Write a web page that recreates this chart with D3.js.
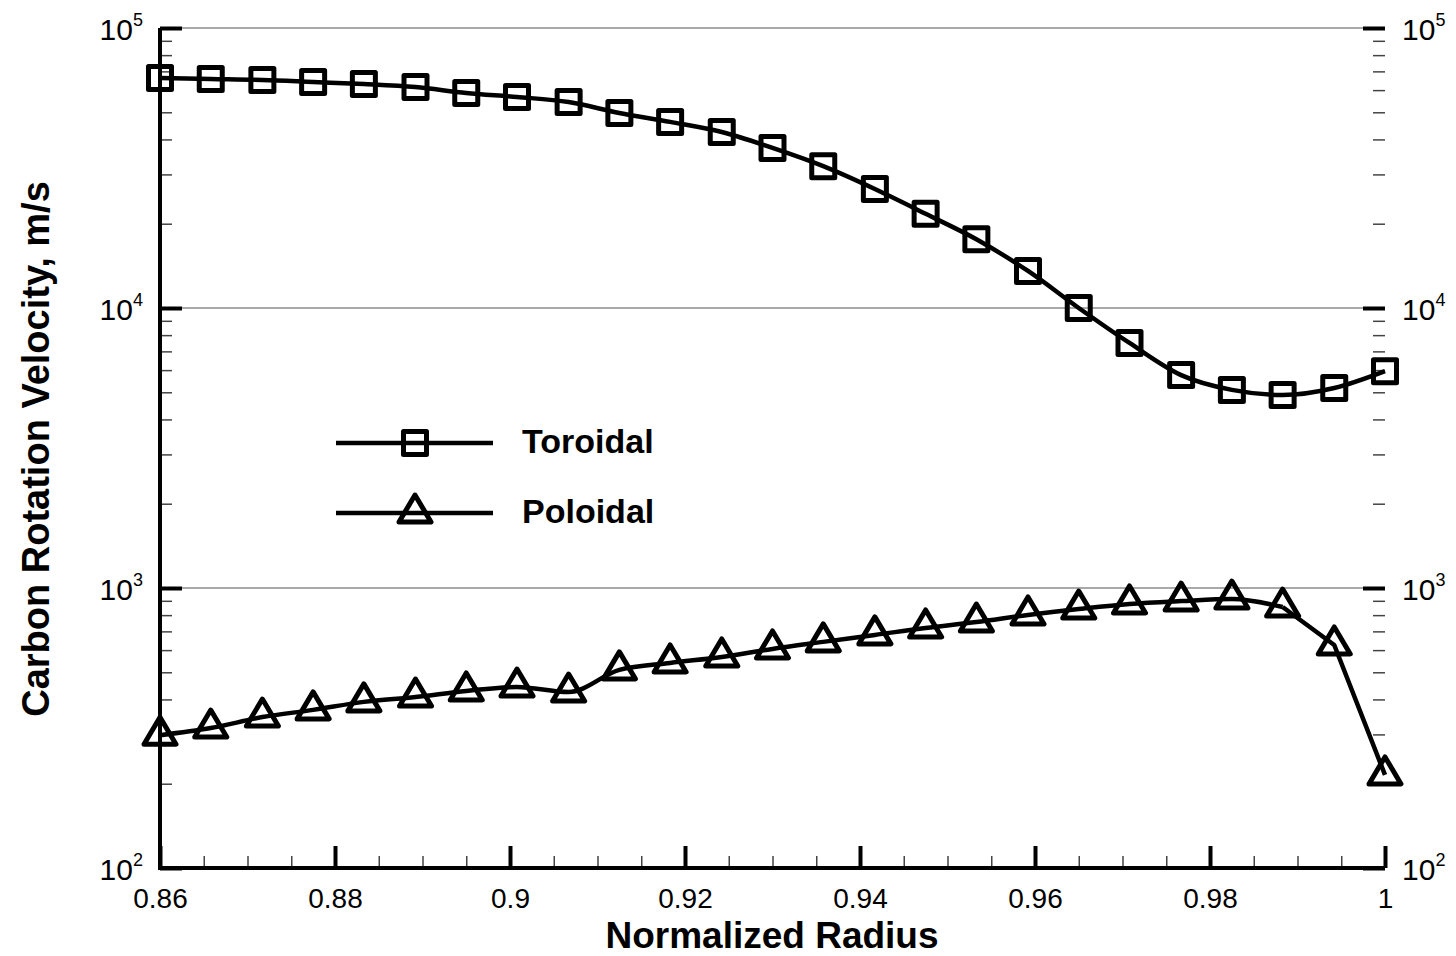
<!DOCTYPE html>
<html><head><meta charset="utf-8">
<script src="https://cdn.jsdelivr.net/npm/d3@7"></script>
<style>
html,body{margin:0;padding:0;background:#fff;}
svg{display:block;font-family:Arial,"Liberation Sans",sans-serif;}
</style></head>
<body>
<svg id="chart" width="1456" height="956"></svg>
<script>
// ---- data ----
const radius = [0.86, 0.8658, 0.8717, 0.8775, 0.8833, 0.8892, 0.895, 0.9008, 0.9067, 0.9125,
  0.9183, 0.9242, 0.93, 0.9358, 0.9417, 0.9475, 0.9533, 0.9592, 0.965, 0.9708,
  0.9767, 0.9825, 0.9883, 0.9942, 1.0];
const toroidal = [66300, 65750, 65200, 64150, 63100, 61560, 58600, 56700, 54400, 49700,
  46200, 42500, 37300, 32100, 26600, 21700, 17600, 13560, 10000, 7500,
  5760, 5100, 4890, 5180, 5950];
const poloidal = [298, 316, 346, 367, 392, 408, 429, 443, 425, 510,
  540, 567, 606, 642, 680, 720, 756, 801, 841, 877,
  898, 913, 855, 626, 215];
const xMajorTicks = [0.86, 0.88, 0.9, 0.92, 0.94, 0.96, 0.98, 1.0];
const xTickLabels = ["0.86", "0.88", "0.9", "0.92", "0.94", "0.96", "0.98", "1"];
const xMinorTicks = [0.865, 0.87, 0.875, 0.885, 0.89, 0.895, 0.905, 0.91, 0.915, 0.925, 0.93, 0.935,
  0.945, 0.95, 0.955, 0.965, 0.97, 0.975, 0.985, 0.99, 0.995];
const yMajorTicks = [100, 1000, 10000, 100000];
const yExponents = ["2", "3", "4", "5"];
const yMinorTicks = [200,300,400,500,600,700,800,900,2000,3000,4000,5000,6000,7000,8000,9000,
  20000,30000,40000,50000,60000,70000,80000,90000];
const seriesNames = ["Toroidal", "Poloidal"];
const xTitle = "Normalized Radius";
const yTitle = "Carbon Rotation Velocity, m/s";

// ---- layout ----
const L = 160, R = 1385, T = 28, B = 868;
const FONT = "Arial, 'Liberation Sans', sans-serif";
const svg = d3.select("#chart");
const x = d3.scaleLinear().domain([0.86, 1.0]).range([L, R]);
const y = d3.scaleLog().domain([100, 100000]).range([B, T]);

// gridlines at decades
svg.append("g").selectAll("line").data(yMajorTicks.slice(1)).join("line")
  .attr("x1", L).attr("x2", R).attr("y1", d => y(d)).attr("y2", d => y(d))
  .attr("stroke", "#555").attr("stroke-width", 1.2);

// minor x ticks
const gxm = svg.append("g").attr("transform", `translate(0,${B})`)
  .call(d3.axisBottom(x).tickValues(xMinorTicks).tickSize(-12).tickFormat(""));
gxm.select(".domain").remove();
gxm.selectAll(".tick line").attr("stroke", "#444").attr("stroke-width", 1.5);

// major x ticks
const gx = svg.append("g").attr("transform", `translate(0,${B})`)
  .call(d3.axisBottom(x).tickValues(xMajorTicks).tickSize(-22).tickPadding(20)
    .tickFormat((d, i) => xTickLabels[i]));
gx.select(".domain").remove();
gx.selectAll(".tick line").attr("stroke", "#000").attr("stroke-width", 4);
gx.selectAll(".tick text").attr("font-size", 28).attr("fill", "#000").attr("font-family", FONT);

// y axes (left & right)
function yAxis(side) {
  const gen = side === "left" ? d3.axisLeft : d3.axisRight;
  const xpos = side === "left" ? L : R;
  const gmn = svg.append("g").attr("transform", `translate(${xpos},0)`)
    .call(gen(y).tickValues(yMinorTicks).tickSize(-12).tickFormat(""));
  gmn.select(".domain").remove();
  gmn.selectAll(".tick line").attr("stroke", "#444").attr("stroke-width", 1.5);
  const g = svg.append("g").attr("transform", `translate(${xpos},0)`)
    .call(gen(y).tickValues(yMajorTicks).tickSize(-22).tickPadding(17).tickFormat(""));
  g.select(".domain").remove();
  g.selectAll(".tick line").attr("stroke", "#000").attr("stroke-width", 4);
  g.selectAll(".tick text").each(function(d, i) {
    const t = d3.select(this).text(null).attr("font-size", 30).attr("fill", "#000")
      .attr("dy", "0.39em").attr("font-family", FONT);
    t.append("tspan").text("10");
    t.append("tspan").text(yExponents[i]).attr("font-size", 18).attr("dy", -14);
  });
}
yAxis("left");
yAxis("right");

// spines
svg.append("line").attr("x1", L).attr("x2", L).attr("y1", T).attr("y2", B + 2)
  .attr("stroke", "#000").attr("stroke-width", 4);
svg.append("line").attr("x1", L - 2).attr("x2", R).attr("y1", B).attr("y2", B)
  .attr("stroke", "#000").attr("stroke-width", 4);

// lines
const smooth = d3.line().curve(d3.curveMonotoneX);
const straight = d3.line();
const torPts = radius.map((r, i) => [x(r), y(toroidal[i])]);
const polPts = radius.map((r, i) => [x(r), y(poloidal[i])]);
const lineStyle = p => p.attr("fill", "none").attr("stroke", "#000")
  .attr("stroke-width", 4.5).attr("stroke-linejoin", "round");
svg.append("path").attr("d", smooth(torPts)).call(lineStyle);
svg.append("path").attr("d", smooth(polPts.slice(0, 23))).call(lineStyle);
svg.append("path").attr("d", straight(polPts.slice(22))).call(lineStyle);

// markers
const sq = 23;
function square(g, cx, cy) {
  g.append("rect").attr("x", cx - sq / 2).attr("y", cy - sq / 2).attr("width", sq).attr("height", sq)
    .attr("fill", "none").attr("stroke", "#000").attr("stroke-width", 5).attr("stroke-linejoin", "round");
}
function triangle(g, cx, cy) {
  g.append("path").attr("d", `M${cx},${cy - 18}L${cx + 16},${cy + 9}L${cx - 16},${cy + 9}Z`)
    .attr("fill", "none").attr("stroke", "#000").attr("stroke-width", 5).attr("stroke-linejoin", "round");
}
const gmk = svg.append("g");
torPts.forEach(p => square(gmk, p[0], p[1]));
polPts.forEach(p => triangle(gmk, p[0], p[1]));

// legend
const lg = svg.append("g");
[[443, 453, square], [513, 523, triangle]].forEach((row, i) => {
  lg.append("line").attr("x1", 336).attr("x2", 493).attr("y1", row[0]).attr("y2", row[0])
    .attr("stroke", "#000").attr("stroke-width", 4.5);
  row[2](lg, 415, row[0]);
  lg.append("text").attr("x", 522).attr("y", row[1]).text(seriesNames[i])
    .attr("font-size", 34).attr("font-weight", "bold").attr("fill", "#000");
});

// titles
svg.append("text").attr("x", 772).attr("y", 947.5).attr("text-anchor", "middle")
  .attr("font-size", 37).attr("font-weight", "bold").text(xTitle);
svg.append("text").attr("transform", `translate(49,${(T + B) / 2 + 1}) rotate(-90)`)
  .attr("text-anchor", "middle").attr("font-size", 38).attr("font-weight", "bold").text(yTitle);
</script>
</body></html>
